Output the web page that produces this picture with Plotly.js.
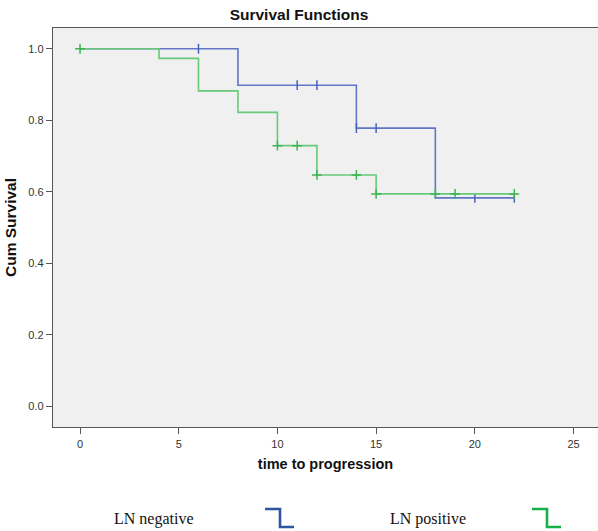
<!DOCTYPE html>
<html>
<head>
<meta charset="utf-8">
<script src="https://cdn.plot.ly/plotly-3.0.1.min.js"></script>
<style>html,body{margin:0;padding:0;background:#fff;}#chart{width:598px;height:531px;}</style>
</head>
<body>
<div id="chart"></div>
<script>
// ---- data ----
const groupNames = ["LN negative", "LN positive"];
const negStepTimes = [0, 8, 14, 18, 22];
const negSurvival  = [1.0, 0.898, 0.778, 0.583, 0.583];
const negCensored  = [6, 11, 12, 14, 15, 20, 22];
const posStepTimes = [0, 4, 6, 8, 10, 12, 15, 22];
const posSurvival  = [1.0, 0.973, 0.882, 0.822, 0.729, 0.647, 0.594, 0.594];
const posCensored  = [0, 10, 11, 12, 14, 15, 18, 19, 22];
const xTicks = [0, 5, 10, 15, 20, 25];
const yTicks = [0.0, 0.2, 0.4, 0.6, 0.8, 1.0];

function survAt(times, surv, t) {
  let v = surv[0];
  for (let i = 0; i < times.length; i++) if (times[i] <= t) v = surv[i];
  return v;
}

const negLine = "#6276c8", posLine = "#66ca78";
const negIcon = "#2f55a2", posIcon = "#17b04a";

const traces = [
  {x: negStepTimes, y: negSurvival, mode: "lines", line: {shape: "hv", color: negLine, width: 1.6}, hoverinfo: "skip"},
  {x: negCensored, y: negCensored.map(t => survAt(negStepTimes, negSurvival, t)), mode: "markers",
   marker: {symbol: "line-ns", size: 7, line: {color: "#4a60bc", width: 1.5}}, hoverinfo: "skip"},
  {x: posStepTimes, y: posSurvival, mode: "lines", line: {shape: "hv", color: posLine, width: 1.6}, hoverinfo: "skip"},
  {x: posCensored, y: posCensored.map(t => survAt(posStepTimes, posSurvival, t)), mode: "markers",
   marker: {symbol: "cross-thin", size: 7, line: {color: "#3cb454", width: 1.5}}, hoverinfo: "skip"}
];

// layout geometry helpers (pixel -> paper)
const L = 53, R = 0, T = 28, B = 104, W = 598, H = 531;
const pw = W - L - R, ph = H - T - B;
const px = v => (v - L) / pw;
const py = v => (H - B - v) / ph;

function stepIcon(x0, color) {
  const xa = px(x0), xb = px(x0 + 15), xc = px(x0 + 29);
  const ya = py(509), yb = py(527);
  return {type: "path", xref: "paper", yref: "paper",
          path: `M ${xa} ${ya} L ${xb} ${ya} L ${xb} ${yb} L ${xc} ${yb}`,
          line: {color: color, width: 2.6}};
}

const layout = {
  width: W, height: H,
  margin: {l: L, r: R, t: T, b: B, pad: 0},
  paper_bgcolor: "#ffffff",
  plot_bgcolor: "#f0f0f0",
  showlegend: false,
  font: {family: "Liberation Sans, Arial, sans-serif", color: "#333", size: 11},
  title: {text: "<b>Survival Functions</b>", x: 0.5, xref: "container", xanchor: "center",
          y: 1 - 15 / H, yref: "container", yanchor: "middle",
          font: {family: "Liberation Sans, Arial, sans-serif", size: 15.5, color: "#111"}},
  xaxis: {range: [-1.37, 26.24], tickvals: xTicks, ticktext: xTicks.map(String),
          ticks: "outside", ticklen: 6, tickcolor: "#555", showgrid: false, zeroline: false,
          showline: true, linecolor: "#555", linewidth: 1.3, mirror: true,
          tickfont: {size: 11, color: "#333"},
          title: {text: "<b>time to progression</b>", standoff: 10,
                  font: {family: "Liberation Sans, Arial, sans-serif", size: 14.5, color: "#111"}}},
  yaxis: {range: [-0.058, 1.058], tickvals: yTicks, ticktext: yTicks.map(v => v.toFixed(1)),
          ticks: "outside", ticklen: 6, tickcolor: "#555", showgrid: false, zeroline: false,
          showline: true, linecolor: "#555", linewidth: 1.3,
          tickfont: {size: 11, color: "#333"},
          title: {text: "<b>Cum Survival</b>", standoff: 7,
                  font: {family: "Liberation Sans, Arial, sans-serif", size: 15.5, color: "#111"}}},
  shapes: [stepIcon(265, negIcon), stepIcon(532, posIcon)],
  annotations: [
    {text: groupNames[0], xref: "paper", yref: "paper", x: px(112), y: py(519), xanchor: "left", yanchor: "middle",
     showarrow: false, font: {family: "Liberation Serif, Times New Roman, serif", size: 16, color: "#111"}},
    {text: groupNames[1], xref: "paper", yref: "paper", x: px(388), y: py(519), xanchor: "left", yanchor: "middle",
     showarrow: false, font: {family: "Liberation Serif, Times New Roman, serif", size: 16, color: "#111"}}
  ]
};

Plotly.newPlot("chart", traces, layout, {displayModeBar: false, staticPlot: true});
</script>
</body>
</html>
